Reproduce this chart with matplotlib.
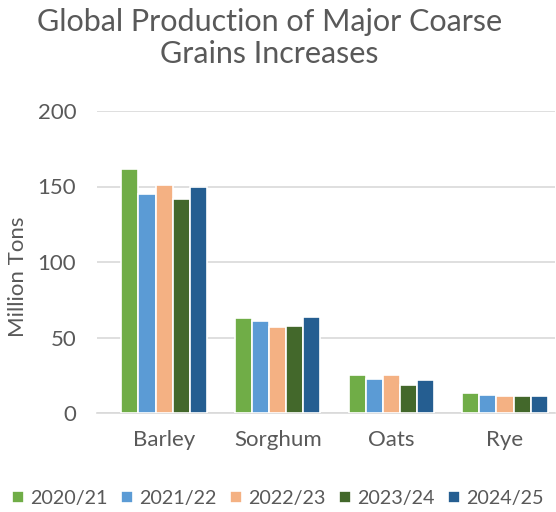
import numpy as np
import matplotlib
matplotlib.use("Agg")
import matplotlib.pyplot as plt

plt.rcParams['font.family'] = ['Lato', 'DejaVu Sans']

categories = ["Barley", "Sorghum", "Oats", "Rye"]
seasons = ["2020/21", "2021/22", "2022/23", "2023/24", "2024/25"]
values = {
    "2020/21": [161.4, 62.7, 25.2, 13.5],
    "2021/22": [145.0, 61.1, 22.3, 11.7],
    "2022/23": [150.8, 57.2, 25.0, 11.5],
    "2023/24": [141.7, 57.6, 18.7, 11.0],
    "2024/25": [149.7, 63.6, 21.9, 11.3],
}
colors = ["#70AD47", "#5B9BD5", "#F4B183", "#43682B", "#255E91"]

TEXT = "#595959"

fig = plt.figure(figsize=(5.56, 5.12), dpi=100)
ax = fig.add_axes([97 / 556, 99 / 512, 458 / 556, 302 / 512])

x = np.arange(len(categories))
step = 0.15
for i, s in enumerate(seasons):
    ax.bar(x + (i - 2) * step, values[s], width=step, color=colors[i],
           edgecolor="white", linewidth=1.2, label=s, zorder=3)

ax.set_xlim(-0.59, 3.44)
ax.set_ylim(0, 200)
ax.set_yticks([0, 50, 100, 150, 200])
ax.grid(axis="y", color="#D9D9D9", linewidth=1.2, zorder=0)
for sp in ["top", "right", "left"]:
    ax.spines[sp].set_visible(False)
ax.spines["bottom"].set_color("#D9D9D9")
ax.spines["bottom"].set_linewidth(1.2)
ax.tick_params(axis="both", length=0, labelsize=16, labelcolor=TEXT)
ax.tick_params(axis="y", pad=15)
ax.tick_params(axis="x", pad=12)
ax.set_xticks(x)
ax.set_xticklabels(categories)

# y label placed on the figure so it does not get clipped
fig.text(18 / 556, 1 - 277 / 512, "Million Tons", rotation=90, ha="center", va="center",
         fontsize=16, color=TEXT)

fig.text(0.485, 0.985, "Global Production of Major Coarse\nGrains Increases",
         ha="center", va="top", fontsize=22, color=TEXT, linespacing=1.2)

fig.legend(loc="lower center", bbox_to_anchor=(0.5, -0.025), ncol=5, frameon=False,
           fontsize=14.2, labelcolor=TEXT, handlelength=0.6, handleheight=0.6,
           handletextpad=0.3, columnspacing=0.7)

fig.savefig("out.png", dpi=100)
